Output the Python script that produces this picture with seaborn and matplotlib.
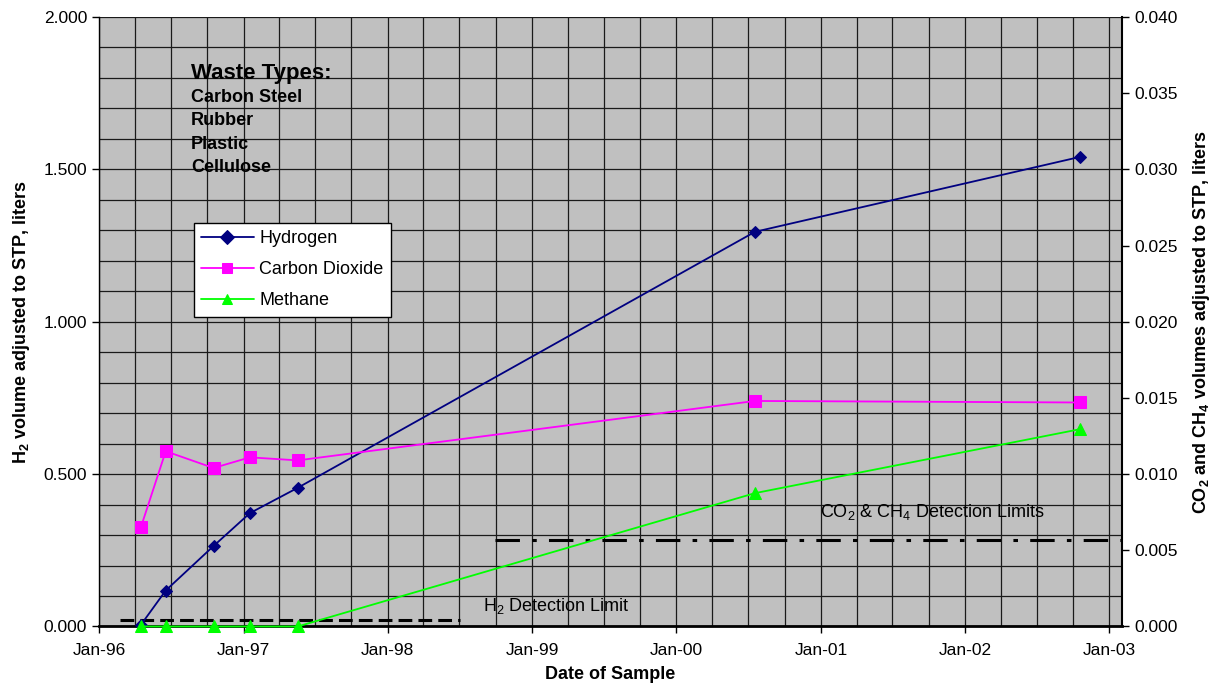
import matplotlib
matplotlib.use("Agg")
import matplotlib.dates as mdates
import matplotlib.pyplot as plt
from matplotlib.ticker import FormatStrFormatter, MultipleLocator
import pandas as pd
import seaborn as sns

# dados
datas = ["1996-04-16", "1996-06-18", "1996-10-17", "1997-01-17",
         "1997-05-18", "2000-07-18", "2002-10-19"]
hidrogenio = [0.005, 0.118, 0.264, 0.372, 0.455, 1.295, 1.541]
dioxido_carbono = [0.0065, 0.0115, 0.0104, 0.0111, 0.0109, 0.0148, 0.0147]
metano = [0.0, 0.0, 0.0, 0.0, 0.0, 0.00875, 0.01295]

limite_h2_datas = ["1996-02-23", "1998-07-03"]
limite_h2 = [0.022, 0.022]
limite_co2_datas = ["1998-09-29", "2003-02-02"]
limite_co2 = [0.00565, 0.00565]

tipos_residuo = ["Carbon Steel", "Rubber", "Plastic", "Cellulose"]
series = ["Hydrogen", "Carbon Dioxide", "Methane"]

df = pd.DataFrame({
    "data": pd.to_datetime(datas),
    "Hydrogen": hidrogenio,
    "Carbon Dioxide": dioxido_carbono,
    "Methane": metano,
})

sns.set_theme(style="ticks")
plt.rcParams["font.family"] = ["Liberation Sans", "DejaVu Sans"]
plt.rcParams["mathtext.default"] = "regular"
plt.rcParams["text.color"] = "black"
plt.rcParams["axes.labelcolor"] = "black"

fig = plt.figure(figsize=(12.17, 6.96), dpi=100)
ax = fig.add_axes([0.0813, 0.0999, 0.8407, 0.8757])
ax.set_facecolor("#C0C0C0")
ax2 = ax.twinx()

sns.lineplot(data=df, x="data", y="Hydrogen", ax=ax, color="#000080",
             marker="D", markersize=6, markeredgecolor="#000080",
             linewidth=1.3, label="Hydrogen", legend=False, clip_on=False,
             zorder=5)
sns.lineplot(data=df, x="data", y="Carbon Dioxide", ax=ax2, color="#FF00FF",
             marker="s", markersize=8, markeredgecolor="#FF00FF",
             linewidth=1.3, label="Carbon Dioxide", legend=False,
             clip_on=False, zorder=5)
sns.lineplot(data=df, x="data", y="Methane", ax=ax2, color="#00FF00",
             marker="^", markersize=8, markeredgecolor="#00FF00",
             linewidth=1.3, label="Methane", legend=False, clip_on=False,
             zorder=6)

# limites de deteccao
ax.plot(pd.to_datetime(limite_h2_datas), limite_h2, color="black",
        linestyle=(0, (4.5, 2)), linewidth=2.2)
ax2.plot(pd.to_datetime(limite_co2_datas), limite_co2, color="black",
         linestyle=(0, (8, 4, 1.5, 4)), linewidth=2.2)

ax.set_xlim(pd.Timestamp("1996-01-01"), pd.Timestamp("2003-02-02"))
ax.set_ylim(0, 2.0)
ax2.set_ylim(0, 0.04)

ax.xaxis.set_major_locator(mdates.YearLocator())
ax.xaxis.set_major_formatter(mdates.DateFormatter("%b-%y"))
ax.xaxis.set_minor_locator(mdates.MonthLocator(bymonth=[1, 4, 7, 10]))
ax.yaxis.set_major_locator(MultipleLocator(0.5))
ax.yaxis.set_minor_locator(MultipleLocator(0.1))
ax.yaxis.set_major_formatter(FormatStrFormatter("%.3f"))
ax2.yaxis.set_major_locator(MultipleLocator(0.005))
ax2.yaxis.set_major_formatter(FormatStrFormatter("%.3f"))

ax.grid(which="both", axis="both", color="#1a1a1a", linewidth=0.9)
ax.set_axisbelow(True)
ax.tick_params(axis="both", which="minor", length=0)
ax.tick_params(axis="both", which="major", direction="out", length=5,
               width=1, color="black", labelsize=12.5, labelcolor="black")
ax2.tick_params(axis="y", which="major", direction="out", length=5,
                width=1, color="black", labelsize=12.5, labelcolor="black")
ax.tick_params(axis="x", pad=7)

ax.spines["top"].set_visible(False)
ax2.spines["top"].set_visible(False)
ax2.spines["left"].set_visible(False)
ax2.spines["bottom"].set_visible(False)
ax.spines["left"].set_color("black")
ax.spines["left"].set_linewidth(1.0)
ax.spines["bottom"].set_color("black")
ax.spines["bottom"].set_linewidth(2.0)
ax2.spines["right"].set_color("black")
ax2.spines["right"].set_linewidth(1.5)

ax.set_xlabel("Date of Sample", fontsize=13, fontweight="bold", labelpad=6)
ax.set_ylabel("H$_2$ volume adjusted to STP, liters", fontsize=13,
              fontweight="bold", labelpad=8)
ax2.set_ylabel("CO$_2$ and CH$_4$ volumes adjusted to STP, liters",
               fontsize=13, fontweight="bold", labelpad=10)

# texto dos tipos de residuo
ax.text(0.090, 0.908, "Waste Types:", transform=ax.transAxes, fontsize=16,
        fontweight="bold", va="center", ha="left")
for i, tipo in enumerate(tipos_residuo):
    ax.text(0.090, 0.868 - i * 0.0383, tipo, transform=ax.transAxes,
            fontsize=13, fontweight="bold", va="center", ha="left")

ax.text(0.375, 0.033, "H$_2$ Detection Limit", transform=ax.transAxes,
        fontsize=13, va="center", ha="left")
ax.text(0.705, 0.187, "CO$_2$ & CH$_4$ Detection Limits",
        transform=ax.transAxes, fontsize=13, va="center", ha="left")

h1, _ = ax.get_legend_handles_labels()
h2, _ = ax2.get_legend_handles_labels()
leg = ax2.legend(h1[:1] + h2[:2], series,
                 loc="upper left", bbox_to_anchor=(0.093, 0.662),
                 fontsize=13, frameon=True, fancybox=False, framealpha=1,
                 edgecolor="black", handlelength=2.9, borderpad=0.4,
                 labelspacing=0.78, handletextpad=0.3, borderaxespad=0)
leg.get_frame().set_linewidth(1.0)
for linha in leg.get_lines():
    linha.set_markersize(7)

fig.savefig("out.png", dpi=100, facecolor="white")
